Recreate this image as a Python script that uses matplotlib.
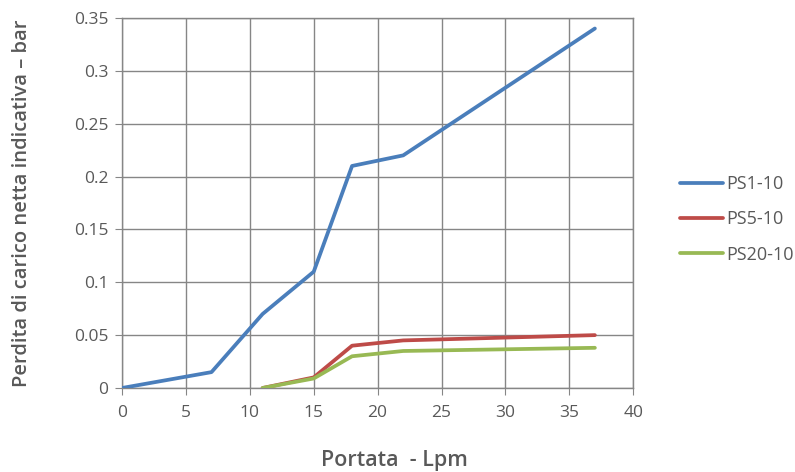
import matplotlib.pyplot as plt

# portata (Lpm) and perdita di carico (bar) per series
x_ps1 = [0, 7, 11, 15, 18, 22, 37]
y_ps1 = [0, 0.015, 0.07, 0.11, 0.21, 0.22, 0.34]

x_ps5 = [11, 15, 18, 22, 37]
y_ps5 = [0, 0.01, 0.04, 0.045, 0.05]

x_ps20 = [11, 15, 18, 22, 37]
y_ps20 = [0, 0.009, 0.03, 0.035, 0.038]

labels = ['PS1-10', 'PS5-10', 'PS20-10']
colors = ['#4a7ebb', '#be4b48', '#98b954']

x_ticks = [0, 5, 10, 15, 20, 25, 30, 35, 40]
y_ticks = [0, 0.05, 0.1, 0.15, 0.2, 0.25, 0.3, 0.35]
y_ticklabels = ['0', '0.05', '0.1', '0.15', '0.2', '0.25', '0.3', '0.35']

plt.rcParams['font.family'] = ['Open Sans', 'DejaVu Sans']
txt = '#595959'
grid = '#868686'

fig = plt.figure(figsize=(7.95, 4.72), dpi=100)
ax = fig.add_axes([0.1535, 0.178, 0.643, 0.784])

lines = []
for xs, ys, lab, c in zip([x_ps1, x_ps5, x_ps20], [y_ps1, y_ps5, y_ps20], labels, colors):
    ln, = ax.plot(xs, ys, color=c, lw=2.7, label=lab, solid_capstyle='round', zorder=3)
    lines.append(ln)

ax.set_xlim(0, 40)
ax.set_ylim(0, 0.35)
ax.set_xticks(x_ticks)
ax.set_yticks(y_ticks)
ax.set_yticklabels(y_ticklabels)
ax.grid(True, color=grid, lw=1)
for s in ax.spines.values():
    s.set_color(grid)
    s.set_linewidth(1)
ax.tick_params(colors=txt, labelsize=12.5, length=5, color=grid)
ax.tick_params(axis='x', pad=7)
ax.tick_params(axis='y', pad=5)

ax.set_xlabel('Portata  - Lpm', color=txt, fontsize=15.5, fontweight='semibold')
ax.set_ylabel('Perdita di carico netta indicativa – bar', color=txt, fontsize=14.5,
              fontweight='semibold')
ax.xaxis.set_label_coords(0.532, -0.195)
ax.yaxis.set_label_coords(-0.196, 0.5)
ax.xaxis.label.set_va('center')
ax.yaxis.label.set_va('center')

leg = fig.legend(handles=lines, loc='center left', bbox_to_anchor=(0.855, 0.535),
                 frameon=False, fontsize=13, handlelength=2.4, labelspacing=0.95,
                 handletextpad=0.15, borderpad=0, borderaxespad=0)
for t in leg.get_texts():
    t.set_color(txt)

fig.savefig('out.png', dpi=100)
